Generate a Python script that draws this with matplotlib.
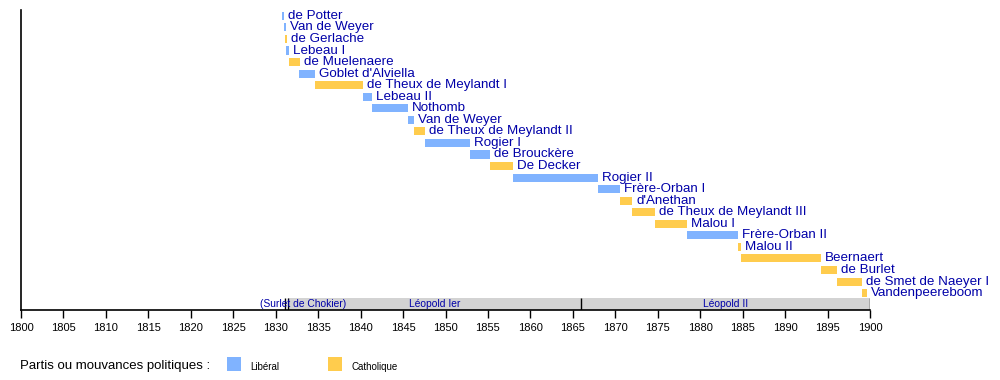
import matplotlib
matplotlib.use("Agg")
import matplotlib.pyplot as plt

# Belgian governments (start, end as decimal years), party
names = ["de Potter", "Van de Weyer", "de Gerlache", "Lebeau I", "de Muelenaere",
         "Goblet d'Alviella", "de Theux de Meylandt I", "Lebeau II", "Nothomb",
         "Van de Weyer", "de Theux de Meylandt II", "Rogier I", "de Brouckère",
         "De Decker", "Rogier II", "Frère-Orban I", "d'Anethan",
         "de Theux de Meylandt III", "Malou I", "Frère-Orban II", "Malou II",
         "Beernaert", "de Burlet", "de Smet de Naeyer I", "Vandenpeereboom"]
starts = [1830.7, 1830.95, 1831.1, 1831.2, 1831.55, 1832.8, 1834.6, 1840.3,
          1841.3, 1845.6, 1846.25, 1847.6, 1852.85, 1855.25, 1857.95, 1868.0,
          1870.5, 1871.95, 1874.65, 1878.45, 1884.45, 1884.8, 1894.25, 1896.15,
          1899.05]
ends = [1830.95, 1831.2, 1831.35, 1831.55, 1832.85, 1834.6, 1840.3, 1841.3,
        1845.6, 1846.25, 1847.6, 1852.85, 1855.25, 1857.95, 1868.0, 1870.5,
        1871.95, 1874.65, 1878.45, 1884.45, 1884.8, 1894.25, 1896.15, 1899.05,
        1899.6]
parties = ["L", "L", "C", "L", "C", "L", "C", "L", "L", "L", "C", "L", "L",
           "C", "L", "L", "C", "C", "C", "L", "C", "C", "C", "C", "C"]

# Heads of state
regents = ["(Surlet de Chokier)", "Léopold Ier", "Léopold II"]
regent_starts = [1831.15, 1831.5, 1865.95]
regent_ends = [1831.5, 1865.95, 1900.0]
regent_label_x = [1833.2, 1848.7, 1883.0]

colors = {"L": "#80B3FF", "C": "#FFCC4D"}
party_names = {"L": "Libéral", "C": "Catholique"}
text_col = "#0000A8"

plt.rcParams['font.family'] = ['Liberation Sans', 'DejaVu Sans']

fig = plt.figure(figsize=(10, 3.8), dpi=100)
ax = fig.add_axes([0.021, 0.184, 0.849, 0.79])

n = len(names)
for i in range(n):
    ax.barh(i, ends[i] - starts[i], left=starts[i], height=0.7,
            color=colors[parties[i]], linewidth=0)
    ax.annotate(names[i], (ends[i], i), xytext=(3, 0), textcoords="offset points",
                va="center", ha="left", fontsize=9.6, color=text_col,
                annotation_clip=False)

band_y = n - 0.05
for j in range(len(regents)):
    if j > 0:
        ax.barh(band_y, regent_ends[j] - regent_starts[j], left=regent_starts[j],
                height=1.04, color="#D3D3D3", linewidth=0)
    ax.text(regent_label_x[j], band_y, regents[j], ha="center", va="center",
            fontsize=7.4, color=text_col)
for x in regent_starts + [regent_ends[-1]]:
    ax.vlines(x, band_y - 0.52, band_y + 0.52, color="black", linewidth=1)

ax.set_xlim(1800, 1900)
ax.set_ylim(n + 0.47, -0.52)
ax.set_xticks(range(1800, 1901, 5))
ax.tick_params(axis="x", direction="out", length=6, width=1, labelsize=8,
               colors="black", pad=3)
ax.set_yticks([])
for s in ["top", "right"]:
    ax.spines[s].set_visible(False)
ax.spines["bottom"].set_linewidth(1.2)
ax.spines["left"].set_linewidth(1.2)

# legend
fig.text(0.02, 0.037, "Partis ou mouvances politiques :", fontsize=9.5,
         va="center", ha="left")
leg_x = [0.227, 0.328]
for k, p in enumerate(["L", "C"]):
    fig.patches.append(plt.Rectangle((leg_x[k], 0.024), 0.014, 0.037,
                                     transform=fig.transFigure,
                                     color=colors[p], linewidth=0))
    fig.text(leg_x[k] + 0.023, 0.035, party_names[p], fontsize=7,
             va="center", ha="left")

fig.savefig("out.png", dpi=100)
